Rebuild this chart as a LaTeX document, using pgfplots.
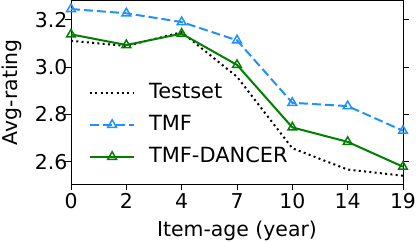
\documentclass[border=0pt]{standalone}
\usepackage{pgfplots}
\pgfplotsset{compat=1.18}
\usepackage{fontspec}
\setmainfont{DejaVu Sans}
\definecolor{tmfblue}{RGB}{30,144,255}
\definecolor{dgreen}{RGB}{0,128,0}
\begin{document}
\begin{tikzpicture}
\begin{axis}[
  scale only axis,
  width=332bp, height=183.5bp,
  xmin=0, xmax=6, ymin=2.506, ymax=3.281,
  xtick={0,1,2,3,4,5,6},
  xticklabels={0,2,4,7,10,14,19},
  ytick={2.6,2.8,3.0,3.2},
  yticklabel style={/pgf/number format/fixed,/pgf/number format/fixed zerofill,/pgf/number format/precision=1, xshift=6bp},
  /pgf/number format/assume math mode=true,
  tick align=outside,
  xtick pos=bottom,
  ytick pos=both,
  major tick length=6bp,
  tick style={line width=0.9bp, black},
  axis line style={line width=0.9bp, black},
  every tick label/.append style={font=\fontsize{20.5}{24}\selectfont},
  label style={font=\fontsize{20.5}{24}\selectfont},
  xlabel={Item-age (year)},
  ylabel={Avg-rating},
  xlabel style={at={(axis description cs:0.5,-0.287)}, anchor=base},
  ylabel style={at={(axis description cs:-0.178,0.5)}, anchor=center},
  legend style={draw=none, fill=none, at={(0.054,0.55)}, anchor=north west,
    font=\fontsize{21}{24}\selectfont, row sep=13bp, inner sep=0pt,
    legend cell align=left, nodes={inner sep=0pt, text height=15bp, text depth=4bp}},
  legend image code/.code={\draw[mark repeat=2,mark phase=2] plot coordinates {(0bp,0bp) (22bp,0bp) (44bp,0bp)};},
  clip=false,
]
\addplot[black, line width=2bp, dash pattern=on 2bp off 3.3bp] coordinates {
(0,3.111) (1,3.089) (2,3.147) (3,2.959) (4,2.657) (5,2.567) (6,2.541)};
\addlegendentry{\hspace{14bp}Testset}
\addplot[tmfblue, line width=2bp, dash pattern=on 9bp off 4bp, mark=triangle, mark size=5bp, mark options={solid, fill=white, line width=1.5bp}] coordinates {
(0,3.245) (1,3.227) (2,3.19) (3,3.113) (4,2.849) (5,2.835) (6,2.731)};
\addlegendentry{\hspace{14bp}TMF}
\addplot[dgreen, line width=2bp, mark=triangle, mark size=5bp, mark options={solid, fill=white, line width=1.5bp}] coordinates {
(0,3.138) (1,3.093) (2,3.141) (3,3.009) (4,2.745) (5,2.684) (6,2.579)};
\addlegendentry{\hspace{14bp}TMF-DANCER}
\end{axis}
\pgfresetboundingbox
\useasboundingbox (-71bp,-58bp) rectangle (345bp,184bp);
\end{tikzpicture}
\end{document}
